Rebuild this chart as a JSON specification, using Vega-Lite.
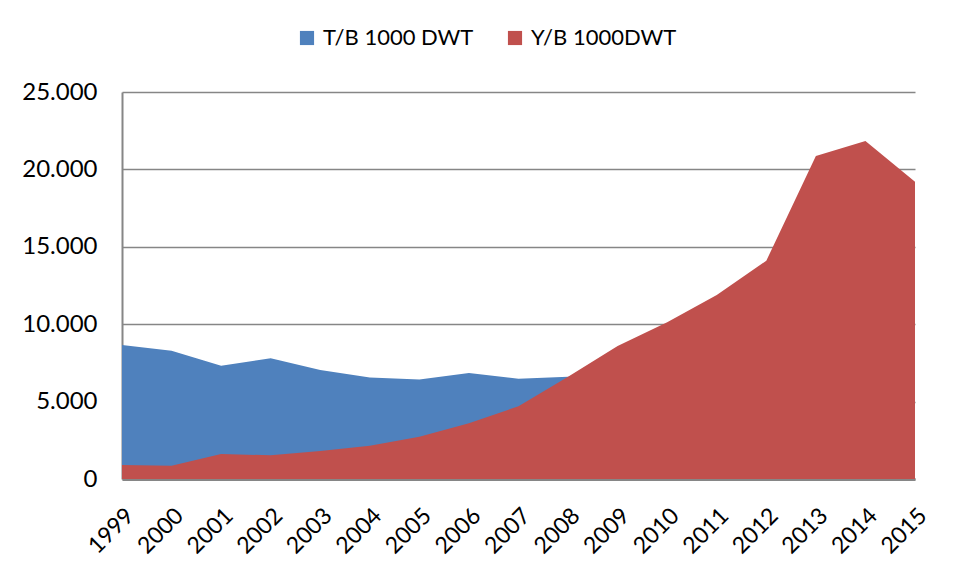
{
  "$schema": "https://vega.github.io/schema/vega-lite/v6.json",
  "width": 793,
  "height": 387,
  "autosize": {"type": "none"},
  "padding": {"left": 122, "top": 92, "right": 41, "bottom": 97},
  "background": "white",
  "config": {
    "locale": {"number": {"decimal": ",", "thousands": ".", "grouping": [3], "currency": ["", ""]}},
    "font": "Lato",
    "view": {"stroke": null}
  },
  "data": {
    "values": [
      {"year": 1999, "series": "T/B 1000 DWT", "value": 8650},
      {"year": 2000, "series": "T/B 1000 DWT", "value": 8290},
      {"year": 2001, "series": "T/B 1000 DWT", "value": 7320},
      {"year": 2002, "series": "T/B 1000 DWT", "value": 7800},
      {"year": 2003, "series": "T/B 1000 DWT", "value": 7040},
      {"year": 2004, "series": "T/B 1000 DWT", "value": 6550},
      {"year": 2005, "series": "T/B 1000 DWT", "value": 6420},
      {"year": 2006, "series": "T/B 1000 DWT", "value": 6850},
      {"year": 2007, "series": "T/B 1000 DWT", "value": 6480},
      {"year": 2008, "series": "T/B 1000 DWT", "value": 6600},
      {"year": 2009, "series": "T/B 1000 DWT", "value": 6800},
      {"year": 2010, "series": "T/B 1000 DWT", "value": 7000},
      {"year": 2011, "series": "T/B 1000 DWT", "value": 7200},
      {"year": 2012, "series": "T/B 1000 DWT", "value": 7400},
      {"year": 2013, "series": "T/B 1000 DWT", "value": 7600},
      {"year": 2014, "series": "T/B 1000 DWT", "value": 7800},
      {"year": 2015, "series": "T/B 1000 DWT", "value": 8000},
      {"year": 1999, "series": "Y/B 1000DWT", "value": 900},
      {"year": 2000, "series": "Y/B 1000DWT", "value": 860},
      {"year": 2001, "series": "Y/B 1000DWT", "value": 1620},
      {"year": 2002, "series": "Y/B 1000DWT", "value": 1530},
      {"year": 2003, "series": "Y/B 1000DWT", "value": 1810},
      {"year": 2004, "series": "Y/B 1000DWT", "value": 2150},
      {"year": 2005, "series": "Y/B 1000DWT", "value": 2730},
      {"year": 2006, "series": "Y/B 1000DWT", "value": 3600},
      {"year": 2007, "series": "Y/B 1000DWT", "value": 4700},
      {"year": 2008, "series": "Y/B 1000DWT", "value": 6610},
      {"year": 2009, "series": "Y/B 1000DWT", "value": 8590},
      {"year": 2010, "series": "Y/B 1000DWT", "value": 10120},
      {"year": 2011, "series": "Y/B 1000DWT", "value": 11890},
      {"year": 2012, "series": "Y/B 1000DWT", "value": 14100},
      {"year": 2013, "series": "Y/B 1000DWT", "value": 20870},
      {"year": 2014, "series": "Y/B 1000DWT", "value": 21830},
      {"year": 2015, "series": "Y/B 1000DWT", "value": 19210}
    ]
  },
  "mark": {"type": "area", "opacity": 1, "interpolate": "linear"},
  "encoding": {
    "x": {
      "field": "year",
      "type": "quantitative",
      "scale": {"domain": [1999, 2015], "nice": false, "zero": false},
      "axis": {
        "title": null,
        "values": [1999, 2000, 2001, 2002, 2003, 2004, 2005, 2006, 2007, 2008, 2009, 2010, 2011, 2012, 2013, 2014, 2015],
        "format": "d",
        "labelAngle": -45,
        "labelAlign": "right",
        "labelBaseline": "top",
        "labelFontSize": 23,
        "labelColor": "black",
        "labelPadding": 25,
        "ticks": false,
        "grid": false,
        "domainColor": "#868686",
        "domainWidth": 3,
        "labelOverlap": false,
        "labelFlush": false,
        "labelBound": false
      }
    },
    "y": {
      "field": "value",
      "type": "quantitative",
      "stack": null,
      "scale": {"domain": [0, 25000], "nice": false},
      "axis": {
        "title": null,
        "values": [0, 5000, 10000, 15000, 20000, 25000],
        "labelFontSize": 24,
        "labelColor": "black",
        "labelPadding": 25,
        "ticks": false,
        "grid": true,
        "gridColor": "#868686",
        "gridWidth": 1.5,
        "domainColor": "#868686",
        "domainWidth": 2,
        "labelExpr": "datum.value == 0 ? '0' : format(datum.value, ',.0f')"
      }
    },
    "color": {
      "field": "series",
      "type": "nominal",
      "scale": {"domain": ["T/B 1000 DWT", "Y/B 1000DWT"], "range": ["#4F81BD", "#C0504D"]},
      "legend": {
        "title": null,
        "orient": "none",
        "legendX": 174,
        "legendY": -65,
        "direction": "horizontal",
        "symbolType": "square",
        "symbolSize": 200,
        "symbolStrokeWidth": 0,
        "labelFontSize": 22,
        "labelColor": "black",
        "columnPadding": 30,
        "labelOffset": 5
      }
    }
  }
}
